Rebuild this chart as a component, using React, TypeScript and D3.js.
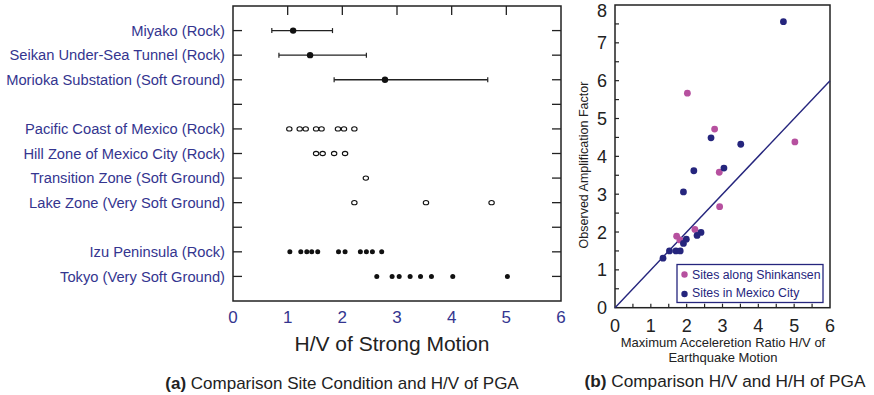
import React from "react";
import * as d3 from "d3";

// ---- Panel (a) data ----
const siteLabels = [
  "Miyako (Rock)",
  "Seikan Under-Sea Tunnel (Rock)",
  "Morioka Substation (Soft Ground)",
  "",
  "Pacific Coast of Mexico (Rock)",
  "Hill Zone of Mexico City (Rock)",
  "Transition Zone (Soft Ground)",
  "Lake Zone (Very Soft Ground)",
  "",
  "Izu Peninsula (Rock)",
  "Tokyo (Very Soft Ground)",
];
// mean with range (rows 1-3)
const rangeRows = [1, 2, 3];
const rangeMean = [1.1, 1.41, 2.78];
const rangeMin = [0.71, 0.84, 1.85];
const rangeMax = [1.82, 2.44, 4.66];
// open circles
const pacificValues = [1.03, 1.22, 1.33, 1.52, 1.62, 1.92, 2.03, 2.22];
const hillValues = [1.52, 1.64, 1.85, 2.05];
const transitionValues = [2.43];
const lakeValues = [2.22, 3.53, 4.73];
// filled dots
const izuValues = [1.04, 1.24, 1.35, 1.44, 1.55, 1.93, 2.05, 2.33, 2.44, 2.55, 2.72];
const tokyoValues = [2.63, 2.91, 3.04, 3.24, 3.43, 3.63, 4.02, 5.02];
const xTicksA = [0, 1, 2, 3, 4, 5, 6];

// ---- Panel (b) data ----
const shinkansenX = [2.02, 2.78, 5.02, 2.91, 2.92, 2.23, 1.72, 1.81];
const shinkansenY = [5.67, 4.72, 4.38, 3.58, 2.67, 2.07, 1.89, 1.79];
const mexicoX = [4.7, 2.68, 3.51, 2.2, 3.04, 1.91, 2.4, 2.29, 1.99, 1.91, 1.52, 1.7, 1.82, 1.34];
const mexicoY = [7.56, 4.49, 4.32, 3.62, 3.69, 3.06, 1.99, 1.91, 1.81, 1.7, 1.5, 1.5, 1.5, 1.31];
const xTicksB = [0, 1, 2, 3, 4, 5, 6];
const yTicksB = [0, 1, 2, 3, 4, 5, 6, 7, 8];

const BLUE = "#34358f";
const NAVY = "#25257d";
const PINK = "#b6509f";
const DARK = "#222";
const FONT = "Liberation Sans, Arial, Helvetica, sans-serif";

export default function App() {
  // Panel A scales
  const xA = d3.scaleLinear().domain([0, 6]).range([233, 561]);
  const yA = d3.scaleLinear().domain([0, 12]).range([6, 301]);
  const rowIdx = d3.range(1, 12);

  // Panel B scales
  const xB = d3.scaleLinear().domain([0, 6]).range([615, 830]);
  const yB = d3.scaleLinear().domain([0, 8]).range([307.7, 5]);
  const minorX = d3.range(0.5, 6, 0.5);
  const minorY = d3.range(0.5, 8, 0.5);

  const openRows: [number, number[]][] = [
    [5, pacificValues],
    [6, hillValues],
    [7, transitionValues],
    [8, lakeValues],
  ];
  const filledRows: [number, number[]][] = [
    [10, izuValues],
    [11, tokyoValues],
  ];

  const line = d3
    .line<number>()
    .x((d) => xB(d))
    .y((d) => yB(d));

  return (
    <svg width={874} height={395} style={{ position: "absolute", left: 0, top: 0 }} fontFamily={FONT}>
      <rect width={874} height={395} fill="#fff" />
      {/* ===== Panel A ===== */}
      <rect x={xA(0)} y={yA(0)} width={xA(6) - xA(0)} height={yA(12) - yA(0)} fill="none" stroke={DARK} strokeWidth={1.5} />
      {rowIdx.map((r) => (
        <g key={"rt" + r}>
          <line x1={xA(0)} x2={xA(0) + 9} y1={yA(r)} y2={yA(r)} stroke={DARK} strokeWidth={1.3} />
          <line x1={xA(6)} x2={xA(6) - 9} y1={yA(r)} y2={yA(r)} stroke={DARK} strokeWidth={1.3} />
        </g>
      ))}
      {[1, 2, 3, 4, 5].map((t) => (
        <line key={"tt" + t} x1={xA(t)} x2={xA(t)} y1={yA(0)} y2={yA(0) + 9} stroke={DARK} strokeWidth={1.3} />
      ))}
      {siteLabels.map((s, i) =>
        s ? (
          <text key={"lab" + i} x={225} y={yA(i + 1)} dy="0.35em" textAnchor="end" fontSize={14.7} fill={BLUE}>
            {s}
          </text>
        ) : null
      )}
      {xTicksA.map((t) => (
        <text key={"xa" + t} x={xA(t)} y={323} textAnchor="middle" fontSize={17} fill={BLUE}>
          {t}
        </text>
      ))}
      <text x={392} y={351} textAnchor="middle" fontSize={21} fill={DARK}>
        H/V of Strong Motion
      </text>
      <text x={342} y={389} textAnchor="middle" fontSize={17} fill={DARK}>
        <tspan fontWeight="bold">(a)</tspan> Comparison Site Condition and H/V of PGA
      </text>
      {rangeRows.map((r, i) => (
        <g key={"rg" + r}>
          <line x1={xA(rangeMin[i])} x2={xA(rangeMax[i])} y1={yA(r)} y2={yA(r)} stroke={DARK} strokeWidth={1.3} />
          <line x1={xA(rangeMin[i])} x2={xA(rangeMin[i])} y1={yA(r) - 2.5} y2={yA(r) + 2.5} stroke={DARK} strokeWidth={1.2} />
          <line x1={xA(rangeMax[i])} x2={xA(rangeMax[i])} y1={yA(r) - 2.5} y2={yA(r) + 2.5} stroke={DARK} strokeWidth={1.2} />
          <circle cx={xA(rangeMean[i])} cy={yA(r)} r={3.2} fill="#111" />
        </g>
      ))}
      {openRows.map(([r, vals]) =>
        vals.map((v, j) => (
          <ellipse key={"o" + r + "-" + j} cx={xA(v)} cy={yA(r)} rx={2.7} ry={2.1} fill="none" stroke="#111" strokeWidth={1.1} />
        ))
      )}
      {filledRows.map(([r, vals]) =>
        vals.map((v, j) => <circle key={"f" + r + "-" + j} cx={xA(v)} cy={yA(r)} r={2.5} fill="#111" />)
      )}

      {/* ===== Panel B ===== */}
      <rect x={xB(0)} y={yB(8)} width={xB(6) - xB(0)} height={yB(0) - yB(8)} fill="none" stroke={DARK} strokeWidth={1.5} />
      {minorX.map((t) => (
        <line key={"bx" + t} x1={xB(t)} x2={xB(t)} y1={yB(0)} y2={yB(0) - 4} stroke={DARK} strokeWidth={1.2} />
      ))}
      {minorY.map((t) => (
        <line key={"by" + t} x1={xB(0)} x2={xB(0) + 4} y1={yB(t)} y2={yB(t)} stroke={DARK} strokeWidth={1.2} />
      ))}
      {xTicksB.map((t) => (
        <text key={"xbl" + t} x={xB(t)} y={332} textAnchor="middle" fontSize={18} fill={DARK}>
          {t}
        </text>
      ))}
      {yTicksB.map((t) => (
        <text key={"ybl" + t} x={607} y={Math.max(yB(t), 11)} dy="0.36em" textAnchor="end" fontSize={18} fill={DARK}>
          {t}
        </text>
      ))}
      <text transform={`translate(588,165) rotate(-90)`} textAnchor="middle" fontSize={12.5} fill={DARK}>
        Observed Amplification Factor
      </text>
      <text x={723} y={347} textAnchor="middle" fontSize={13} fill={DARK}>
        Maximum Acceleretion Ratio H/V of
      </text>
      <text x={723} y={362} textAnchor="middle" fontSize={13} fill={DARK}>
        Earthquake Motion
      </text>
      <text x={725} y={387} textAnchor="middle" fontSize={17.2} fill={DARK}>
        <tspan fontWeight="bold">(b)</tspan> Comparison H/V and H/H of PGA
      </text>
      <path d={line([0, 6]) || ""} stroke={NAVY} strokeWidth={1.4} fill="none" />
      {shinkansenX.map((x, i) => (
        <circle key={"s" + i} cx={xB(x)} cy={yB(shinkansenY[i])} r={3.4} fill={PINK} />
      ))}
      {mexicoX.map((x, i) => (
        <circle key={"m" + i} cx={xB(x)} cy={yB(mexicoY[i])} r={3.4} fill={NAVY} />
      ))}
      {/* legend */}
      <rect x={677} y={264.5} width={146} height={38} fill="#fff" stroke={NAVY} strokeWidth={1.3} />
      <circle cx={684.5} cy={274.5} r={3.2} fill={PINK} />
      <text x={692} y={274.5} dy="0.35em" fontSize={12.3} fill={NAVY}>
        Sites along Shinkansen
      </text>
      <circle cx={684.5} cy={294} r={3.2} fill={NAVY} />
      <text x={692} y={293} dy="0.35em" fontSize={12.3} fill={NAVY}>
        Sites in Mexico City
      </text>
    </svg>
  );
}
